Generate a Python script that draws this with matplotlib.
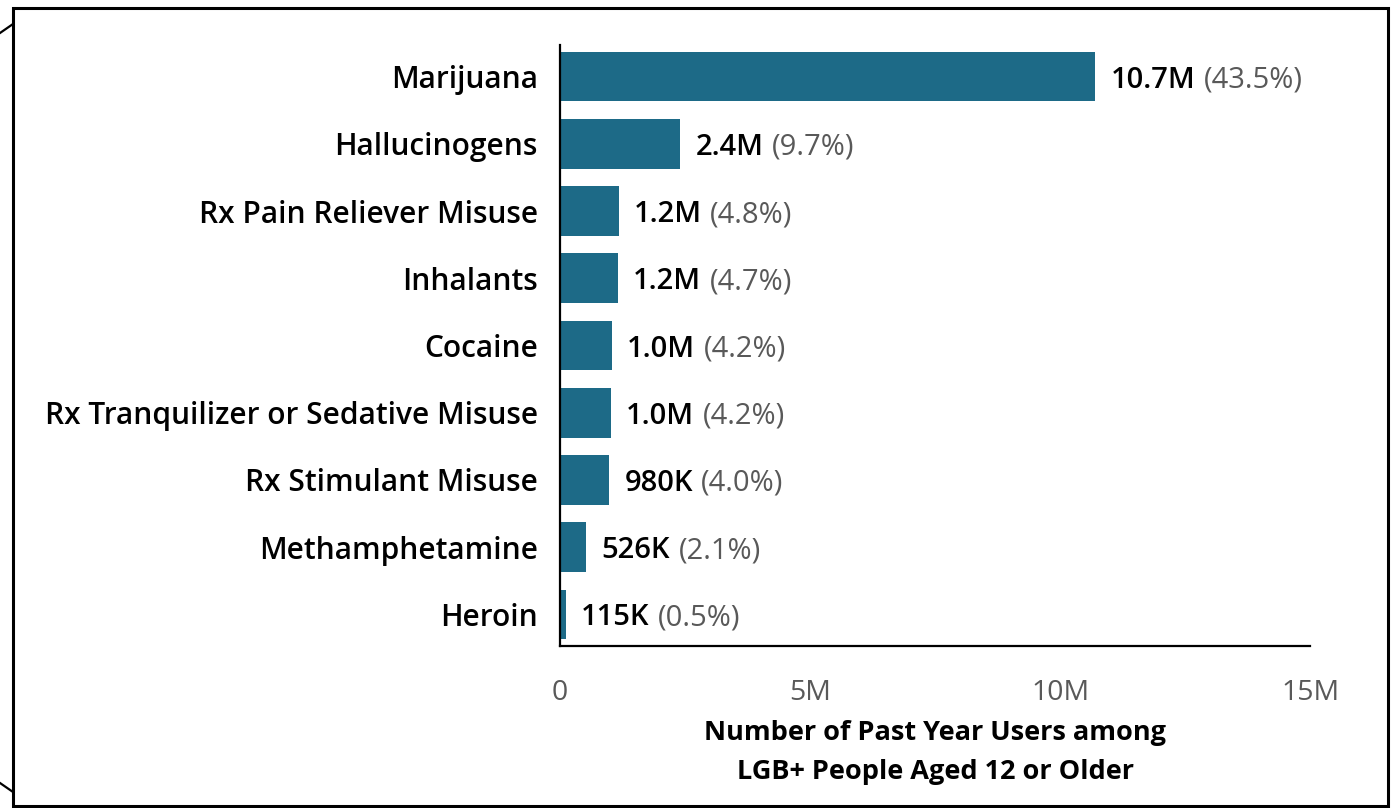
import matplotlib
matplotlib.use("Agg")
import matplotlib.pyplot as plt
from matplotlib.lines import Line2D
from matplotlib.patches import Rectangle
from matplotlib.ticker import FuncFormatter

substances = [
    "Marijuana",
    "Hallucinogens",
    "Rx Pain Reliever Misuse",
    "Inhalants",
    "Cocaine",
    "Rx Tranquilizer or Sedative Misuse",
    "Rx Stimulant Misuse",
    "Methamphetamine",
    "Heroin",
]
users = [10.7e6, 2.4e6, 1.17e6, 1.16e6, 1.04e6, 1.02e6, 0.98e6, 0.526e6, 0.115e6]
pct = [43.5, 9.7, 4.8, 4.7, 4.2, 4.2, 4.0, 2.1, 0.5]
x_ticks = [0, 5e6, 10e6, 15e6]

BAR_COLOR = "#1d6a87"
GRAY = "#595959"
FONT = ["Open Sans", "DejaVu Sans"]

plt.rcParams["font.family"] = FONT


def fmt_count(v):
    if v >= 1e6:
        return f"{v / 1e6:.1f}M"
    return f"{v / 1e3:.0f}K"


def fmt_tick(v, _pos):
    return "0" if v == 0 else f"{v / 1e6:.0f}M"


fig = plt.figure(figsize=(13.91, 8.08), dpi=100)
ax = fig.add_axes([0.4026, 0.2005, 0.5392, 0.7438])

ypos = range(len(substances))
ax.barh(ypos, users, height=0.74, color=BAR_COLOR)
ax.set_ylim(len(substances) - 0.53, -0.47)
ax.set_xlim(0, 15e6)
ax.set_yticks(list(ypos))
ax.set_yticklabels(substances, fontsize=21.5, fontweight="semibold", color="black")
ax.set_xticks(x_ticks)
ax.xaxis.set_major_formatter(FuncFormatter(fmt_tick))
ax.tick_params(axis="x", length=0, pad=24, labelsize=20.5, labelcolor=GRAY)
ax.tick_params(axis="y", length=0, pad=16)

for side in ("top", "right"):
    ax.spines[side].set_visible(False)
for side in ("left", "bottom"):
    ax.spines[side].set_linewidth(1.6)
    ax.spines[side].set_color("black")

# bold count followed by the share in gray
for y, v, p in zip(ypos, users, pct):
    t = ax.annotate(fmt_count(v), xy=(v, y), xytext=(11, 0), textcoords="offset points",
                    va="center_baseline", ha="left", fontsize=21, fontweight="semibold",
                    color="black")
    ax.annotate(f"({p:.1f}%)", xy=(1, 0), xycoords=t, xytext=(6, 0),
                textcoords="offset points", va="bottom", ha="left",
                fontsize=21, color=GRAY)

ax.set_xlabel("Number of Past Year Users among\nLGB+ People Aged 12 or Older",
              fontsize=19.5, fontweight="bold", linespacing=1.65, labelpad=9)

# outer frame
W, H = 1391, 808
fig.patches.append(Rectangle((13 / W, 2 / H), 1375 / W, 798 / H, transform=fig.transFigure,
                             fill=False, edgecolor="black", linewidth=2.2))
fig.lines.append(Line2D([0, 13 / W], [1 - 33 / H, 1 - 24 / H], transform=fig.transFigure,
                        color="black", linewidth=1.6))
fig.lines.append(Line2D([0, 13 / W], [1 - 783 / H, 1 - 792 / H], transform=fig.transFigure,
                        color="black", linewidth=1.6))

fig.savefig("out.png", dpi=100)
